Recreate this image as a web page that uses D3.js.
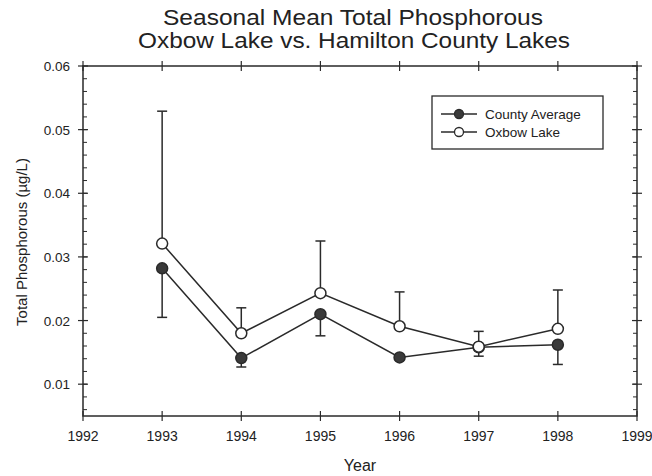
<!DOCTYPE html>
<html>
<head>
<meta charset="utf-8">
<script src="https://cdn.jsdelivr.net/npm/d3@7"></script>
<style>
  body { margin: 0; background: #fff; }
  text { font-family: "Liberation Sans", Arial, sans-serif; fill: #222; }
</style>
</head>
<body>
<script>
// data
var years = [1993, 1994, 1995, 1996, 1997, 1998];
var countyAvg = [0.0282, 0.0141, 0.0210, 0.0142, 0.0158, 0.0162];
var countyLow = [0.0205, 0.0127, 0.0176, 0.0142, 0.0144, 0.0131];
var oxbow = [0.0321, 0.0180, 0.0243, 0.0191, 0.0159, 0.0187];
var oxbowHigh = [0.0529, 0.0220, 0.0325, 0.0245, 0.0183, 0.0248];
var xTicks = [1992, 1993, 1994, 1995, 1996, 1997, 1998, 1999];
var yTicks = [0.01, 0.02, 0.03, 0.04, 0.05, 0.06];
var yMinor = d3.range(6, 60, 2).map(function(d) { return d / 1000; });

var W = 652, H = 476;
var margin = {top: 66, right: 15, bottom: 60, left: 83},
    width = W - margin.left - margin.right,
    height = H - margin.top - margin.bottom;

var svg = d3.select("body").append("svg")
    .attr("width", W)
    .attr("height", H);

var g = svg.append("g")
    .attr("transform", "translate(" + margin.left + "," + margin.top + ")");

var x = d3.scaleLinear().domain([1992, 1999]).range([0, width]);
var y = d3.scaleLinear().domain([0.005, 0.06]).range([height, 0]);

var ink = "#2a2a2a";

// frame
g.append("rect")
    .attr("width", width).attr("height", height)
    .attr("fill", "none").attr("stroke", ink).attr("stroke-width", 1.5);

// x ticks (bottom and top), crossing the line
[0, height].forEach(function(yy) {
  g.selectAll(null).data(xTicks).enter().append("line")
      .attr("x1", function(d) { return x(d); }).attr("x2", function(d) { return x(d); })
      .attr("y1", yy - 5).attr("y2", yy + 5)
      .attr("stroke", ink).attr("stroke-width", 1.2);
});

// y minor ticks, inward on both sides
g.selectAll(".ml").data(yMinor).enter().append("line")
    .attr("x1", 0).attr("x2", 4)
    .attr("y1", function(d) { return y(d); }).attr("y2", function(d) { return y(d); })
    .attr("stroke", ink).attr("stroke-width", 1);
g.selectAll(".mr").data(yMinor).enter().append("line")
    .attr("x1", width - 4).attr("x2", width)
    .attr("y1", function(d) { return y(d); }).attr("y2", function(d) { return y(d); })
    .attr("stroke", ink).attr("stroke-width", 1);

// y major ticks crossing
[0, width].forEach(function(xx) {
  g.selectAll(null).data(yTicks).enter().append("line")
      .attr("x1", xx - 5).attr("x2", xx + 5)
      .attr("y1", function(d) { return y(d); }).attr("y2", function(d) { return y(d); })
      .attr("stroke", ink).attr("stroke-width", 1.2);
});

// tick labels
g.selectAll(".xl").data(xTicks).enter().append("text")
    .attr("x", function(d) { return x(d); })
    .attr("y", height + 25)
    .attr("text-anchor", "middle")
    .style("font-size", "14px")
    .text(function(d) { return d; });

g.selectAll(".yl").data(yTicks).enter().append("text")
    .attr("x", -13)
    .attr("y", function(d) { return y(d) + 5; })
    .attr("text-anchor", "end")
    .style("font-size", "13.5px")
    .text(function(d) { return d3.format(".2f")(d); });

// axis titles
svg.append("text")
    .attr("x", 360).attr("y", 471)
    .attr("text-anchor", "middle")
    .style("font-size", "16px")
    .text("Year");

svg.append("text")
    .attr("transform", "translate(27,242) rotate(-90)")
    .attr("text-anchor", "middle")
    .style("font-size", "15px")
    .text("Total Phosphorous (\u00b5g/L)");

// title
svg.append("text")
    .attr("x", 353).attr("y", 25)
    .attr("text-anchor", "middle")
    .attr("textLength", 380)
    .attr("lengthAdjust", "spacingAndGlyphs")
    .style("font-size", "21.5px")
    .text("Seasonal Mean Total Phosphorous");
svg.append("text")
    .attr("x", 354).attr("y", 48)
    .attr("text-anchor", "middle")
    .attr("textLength", 432)
    .attr("lengthAdjust", "spacingAndGlyphs")
    .style("font-size", "21.5px")
    .text("Oxbow Lake vs. Hamilton County Lakes");

// error bars
function errorBars(vals, ends) {
  var eb = g.append("g");
  years.forEach(function(yr, i) {
    eb.append("line")
        .attr("x1", x(yr)).attr("x2", x(yr))
        .attr("y1", y(vals[i])).attr("y2", y(ends[i]))
        .attr("stroke", ink).attr("stroke-width", 1.5);
    eb.append("line")
        .attr("x1", x(yr) - 5).attr("x2", x(yr) + 5)
        .attr("y1", y(ends[i])).attr("y2", y(ends[i]))
        .attr("stroke", ink).attr("stroke-width", 1.5);
  });
}
errorBars(countyAvg, countyLow);
errorBars(oxbow, oxbowHigh);

var line = d3.line()
    .x(function(d, i) { return x(years[i]); })
    .y(function(d) { return y(d); });

function series(vals, fill) {
  g.append("path")
      .datum(vals)
      .attr("d", line)
      .attr("fill", "none")
      .attr("stroke", ink)
      .attr("stroke-width", 1.5);
  g.selectAll(null).data(vals).enter().append("circle")
      .attr("cx", function(d, i) { return x(years[i]); })
      .attr("cy", function(d) { return y(d); })
      .attr("r", 5.5)
      .attr("fill", fill)
      .attr("stroke", ink)
      .attr("stroke-width", 1.5);
}
series(countyAvg, "#3a3a3a");
series(oxbow, "#fff");

// legend
var lg = svg.append("g").attr("transform", "translate(432,96)");
lg.append("rect")
    .attr("width", 171).attr("height", 53)
    .attr("fill", "#fff").attr("stroke", ink).attr("stroke-width", 1.3);
var legendItems = [["County Average", "#3a3a3a"], ["Oxbow Lake", "#fff"]];
legendItems.forEach(function(d, i) {
  var yy = 18 + i * 18;
  lg.append("line")
      .attr("x1", 9).attr("x2", 45).attr("y1", yy).attr("y2", yy)
      .attr("stroke", ink).attr("stroke-width", 1.5);
  lg.append("circle")
      .attr("cx", 27).attr("cy", yy).attr("r", 4.5)
      .attr("fill", d[1]).attr("stroke", ink).attr("stroke-width", 1.3);
  lg.append("text")
      .attr("x", 53).attr("y", yy + 5)
      .style("font-size", "13.5px")
      .text(d[0]);
});
</script>
</body>
</html>
